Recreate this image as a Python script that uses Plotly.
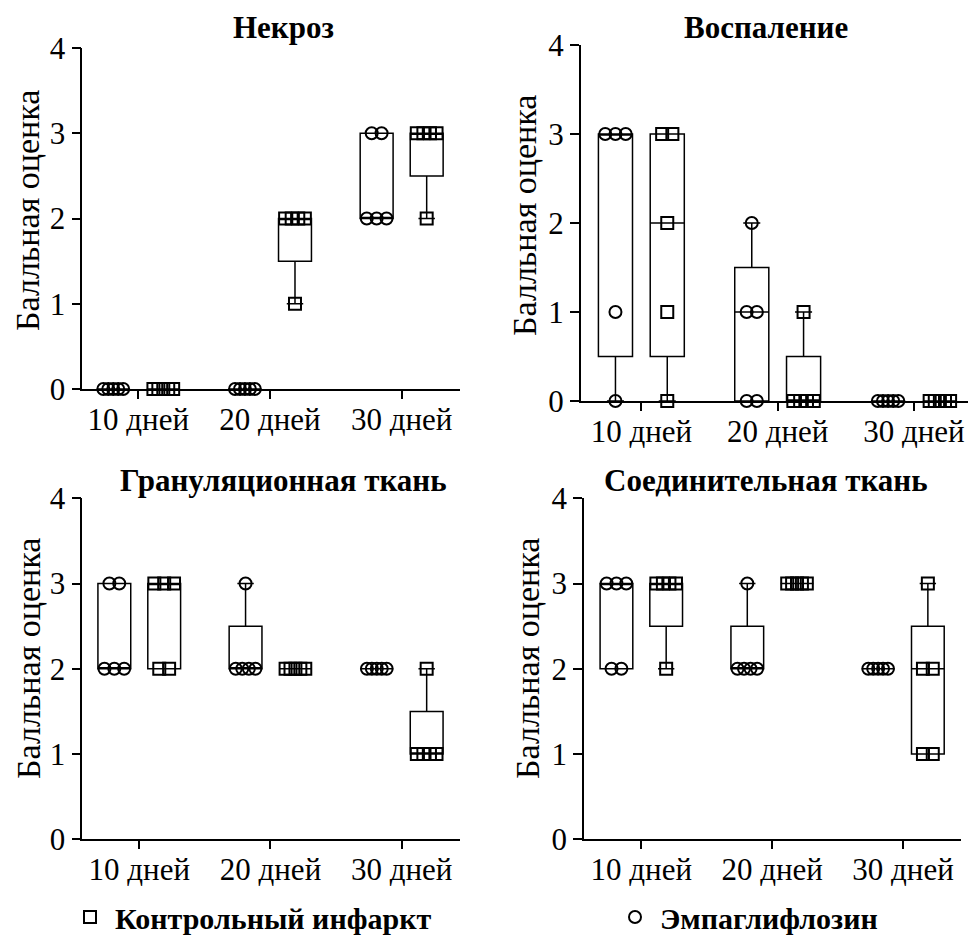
import plotly.graph_objects as go

# ---------------- data ----------------
day_labels = ["10 дней", "20 дней", "30 дней"]
panel_titles = ["Некроз", "Воспаление", "Грануляционная ткань", "Соединительная ткань"]
y_title = "Балльная оценка"
ctrl_name = "Контрольный инфаркт"
emp_name = "Эмпаглифлозин"

# scores per day (10, 20, 30 days), 5 animals each
necrosis_emp = [[0, 0, 0, 0, 0], [0, 0, 0, 0, 0], [2, 2, 2, 3, 3]]
necrosis_ctrl = [[0, 0, 0, 0, 0], [1, 2, 2, 2, 2], [2, 3, 3, 3, 3]]
inflam_emp = [[0, 1, 3, 3, 3], [0, 0, 1, 1, 2], [0, 0, 0, 0, 0]]
inflam_ctrl = [[0, 1, 2, 3, 3], [0, 0, 0, 0, 1], [0, 0, 0, 0, 0]]
gran_emp = [[2, 2, 2, 3, 3], [2, 2, 2, 2, 3], [2, 2, 2, 2, 2]]
gran_ctrl = [[2, 2, 3, 3, 3], [2, 2, 2, 2, 2], [1, 1, 1, 1, 2]]
conn_emp = [[2, 2, 3, 3, 3], [2, 2, 2, 2, 3], [2, 2, 2, 2, 2]]
conn_ctrl = [[2, 3, 3, 3, 3], [3, 3, 3, 3, 3], [1, 1, 2, 2, 3]]

emp_sets = [necrosis_emp, inflam_emp, gran_emp, conn_emp]
ctrl_sets = [necrosis_ctrl, inflam_ctrl, gran_ctrl, conn_ctrl]

# ---------------- layout geometry (pixels, as seen on screen) ----------------
PAGE_OFF = 8            # browser body margin
W, H = 976 - PAGE_OFF, 938 - PAGE_OFF
# (x_left, x_right, y_top, y_bottom, xmin, xmax)
panels = [
    (82.3, 460.0, 48.0, 389.0, -0.425, 2.443),
    (580.7, 973.0, 45.0, 401.0, -0.445, 2.433),
    (82.3, 460.0, 498.3, 839.3, -0.434, 2.444),
    (584.0, 960.7, 498.3, 839.3, -0.438, 2.441),
]
title_pos = [(283, 28), (766, 28), (283, 481), (766, 481)]
ytitle_pos = [(28, 211), (525, 216), (28, 659), (527, 659)]


def px(x):
    return (x - PAGE_OFF) / W


def py(y):
    return 1 - (y - PAGE_OFF) / H


FONT = "Liberation Serif"
BOX_OFF = 0.19
BOX_W = 0.25


def spread(vals, center):
    """Beeswarm-like horizontal spread of identical values."""
    xs = [0.0] * len(vals)
    groups = {}
    for i, v in enumerate(vals):
        groups.setdefault(v, []).append(i)
    for v, idx in groups.items():
        k = len(idx)
        if k == 1:
            xs[idx[0]] = center
            continue
        s = min(0.075, 0.15 / (k - 1))
        for j, i in enumerate(idx):
            xs[i] = center + (j - (k - 1) / 2) * s
    return xs


fig = go.Figure()
layout_axes = {}
annotations = []

for p in range(4):
    xl, xr, yt, yb, xmin, xmax = panels[p]
    ax = "" if p == 0 else str(p + 1)
    xref, yref = "x" + ax, "y" + ax
    series = [
        (emp_sets[p], -BOX_OFF, "circle-open", emp_name, "legend2"),
        (ctrl_sets[p], BOX_OFF, "square-open", ctrl_name, "legend"),
    ]
    # boxes
    for data, off, sym, name, leg in series:
        for g, vals in enumerate(data):
            fig.add_trace(go.Box(
                x=[g + off] * len(vals), y=vals, width=BOX_W,
                boxpoints=False, quartilemethod="exclusive",
                whiskerwidth=0.5,
                line=dict(color="black", width=1.5),
                fillcolor="rgba(255,255,255,0)",
                showlegend=False, hoverinfo="skip",
                xaxis=xref, yaxis=yref,
            ))
    # points
    for data, off, sym, name, leg in series:
        for g, vals in enumerate(data):
            fig.add_trace(go.Scatter(
                x=spread(vals, g + off), y=vals, mode="markers",
                marker=dict(symbol=sym, size=12, color="black",
                            line=dict(color="black", width=2)),
                cliponaxis=False, name=name, legend=leg,
                showlegend=(p == 0 and g == 0),
                xaxis=xref, yaxis=yref,
            ))

    layout_axes["xaxis" + ax] = dict(
        domain=[px(xl), px(xr)], range=[xmin, xmax], anchor=yref,
        tickmode="array", tickvals=[0, 1, 2], ticktext=day_labels,
        showline=True, linecolor="black", linewidth=1.5,
        ticks="outside", ticklen=8, tickwidth=1.5, tickcolor="black",
        showgrid=False, zeroline=False, ticklabelstandoff=-6,
        tickfont=dict(family=FONT, size=31, color="black"),
    )
    layout_axes["yaxis" + ax] = dict(
        domain=[py(yb), py(yt)], range=[0, 4], anchor=xref,
        tickmode="array", tickvals=[0, 1, 2, 3, 4],
        showline=True, linecolor="black", linewidth=1.5,
        ticks="outside", ticklen=9, tickwidth=1.5, tickcolor="black",
        showgrid=False, zeroline=False,
        tickfont=dict(family=FONT, size=31, color="black"),
    )
    tx, ty = title_pos[p]
    annotations.append(dict(
        text=panel_titles[p], x=px(tx), y=py(ty), xref="paper", yref="paper",
        xanchor="center", yanchor="middle", showarrow=False,
        font=dict(family=FONT, size=31, color="black", weight="bold"),
    ))
    yx, yy = ytitle_pos[p]
    annotations.append(dict(
        text=y_title, x=px(yx), y=py(yy), xref="paper", yref="paper",
        xanchor="center", yanchor="middle", showarrow=False, textangle=-90,
        font=dict(family=FONT, size=34, color="black"),
    ))

legend_font = dict(family=FONT, size=30, color="black", weight="bold")
fig.update_layout(
    width=W, height=H,
    margin=dict(l=0, r=0, t=0, b=0, autoexpand=False),
    paper_bgcolor="white", plot_bgcolor="white",
    annotations=annotations,
    legend=dict(x=px(65), y=py(917), xanchor="left", yanchor="middle",
                itemwidth=40, font=legend_font, bgcolor="rgba(0,0,0,0)"),
    legend2=dict(x=px(610), y=py(917), xanchor="left", yanchor="middle",
                 itemwidth=40, font=legend_font, bgcolor="rgba(0,0,0,0)"),
    **layout_axes,
)

fig.write_html("out.html")
